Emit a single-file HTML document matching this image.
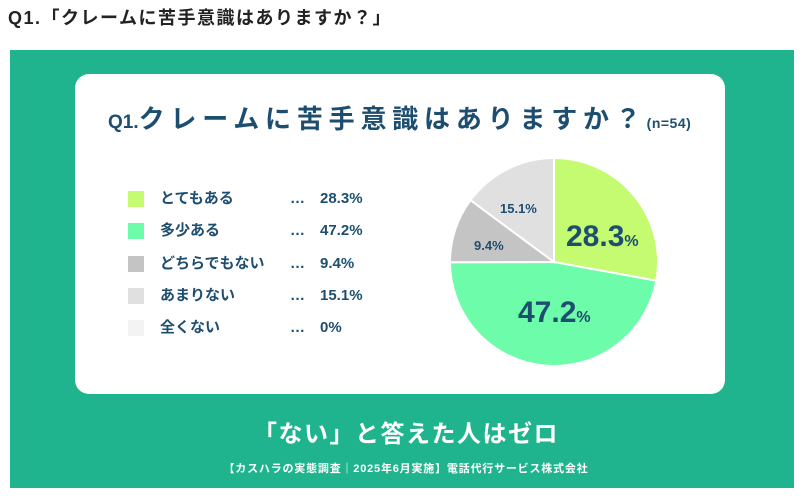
<!DOCTYPE html>
<html><head><meta charset="utf-8"><style>
body{margin:0;width:812px;height:496px;background:#fff;position:relative;overflow:hidden;font-family:"Liberation Sans","Noto Sans CJK JP",sans-serif;}
.h{position:absolute;left:8px;top:4px;font-size:18px;font-weight:bold;color:#222;letter-spacing:1.5px;}
.g{position:absolute;left:10px;top:50px;width:784px;height:438px;background:#1fb48d;}
.c{position:absolute;left:75px;top:74px;width:650px;height:320px;background:#fff;border-radius:14px;}
.t{position:absolute;left:108px;top:99px;font-size:26px;font-weight:bold;color:#1d4e70;letter-spacing:5.8px;white-space:nowrap;}
.t small{font-size:14px;letter-spacing:0.5px}
.t .q{font-size:19px;letter-spacing:0}
.row{position:absolute;left:128px;font-size:15px;font-weight:bold;color:#1d4e70;height:20px;line-height:20px;white-space:nowrap;}
.row i{position:absolute;left:0;top:2px;width:16px;height:16px;}
.row span{position:absolute;left:32px;}
.row b{position:absolute;left:162px;}
.row em{position:absolute;left:192px;font-style:normal;}
.b{position:absolute;left:0;width:812px;text-align:center;color:#fff;font-weight:bold;}
</style></head><body>
<div class="h">Q1.「クレームに苦手意識はありますか？」</div>
<div class="g"></div>
<div class="c"></div>
<div class="t"><span class="q">Q1.</span>クレームに苦手意識はありますか？<small>(n=54)</small></div>
<div class="row" style="top:189px"><i style="background:#c4fb70"></i><span>とてもある</span><b>…</b><em>28.3%</em></div>
<div class="row" style="top:221px"><i style="background:#6dfca9"></i><span>多少ある</span><b>…</b><em>47.2%</em></div>
<div class="row" style="top:254px"><i style="background:#c4c4c4"></i><span>どちらでもない</span><b>…</b><em>9.4%</em></div>
<div class="row" style="top:286px"><i style="background:#e0e0e0"></i><span>あまりない</span><b>…</b><em>15.1%</em></div>
<div class="row" style="top:318px"><i style="background:#f3f3f3"></i><span>全くない</span><b>…</b><em>0%</em></div>
<svg style="position:absolute;left:0;top:0" width="812" height="496">
<g stroke="#fff" stroke-width="2">
<path d="M554,262 L554,158 A104,104 0 0 1 656.3,280.7 Z" fill="#c4fb70"/>
<path d="M554,262 L656.3,280.7 A104,104 0 0 1 450,262.3 Z" fill="#6dfca9"/>
<path d="M554,262 L450,262.3 A104,104 0 0 1 470.5,200.2 Z" fill="#c4c4c4"/>
<path d="M554,262 L470.5,200.2 A104,104 0 0 1 554,158 Z" fill="#e0e0e0"/>
</g>
<g fill="#1d4e70" font-family="Liberation Sans,sans-serif" font-weight="bold">
<text x="566" y="246" font-size="30">28.3<tspan font-size="16">%</tspan></text>
<text x="518" y="322" font-size="30">47.2<tspan font-size="16">%</tspan></text>
<text x="474" y="250" font-size="13">9.4%</text>
<text x="500" y="213" font-size="13">15.1%</text>
</g>
</svg>
<div class="b" style="top:414px;font-size:24px;letter-spacing:1.5px;">「ない」と答えた人はゼロ</div>
<div class="b" style="top:460px;font-size:11px;letter-spacing:0.8px;">【カスハラの実態調査｜2025年6月実施】電話代行サービス株式会社</div>
</body></html>
